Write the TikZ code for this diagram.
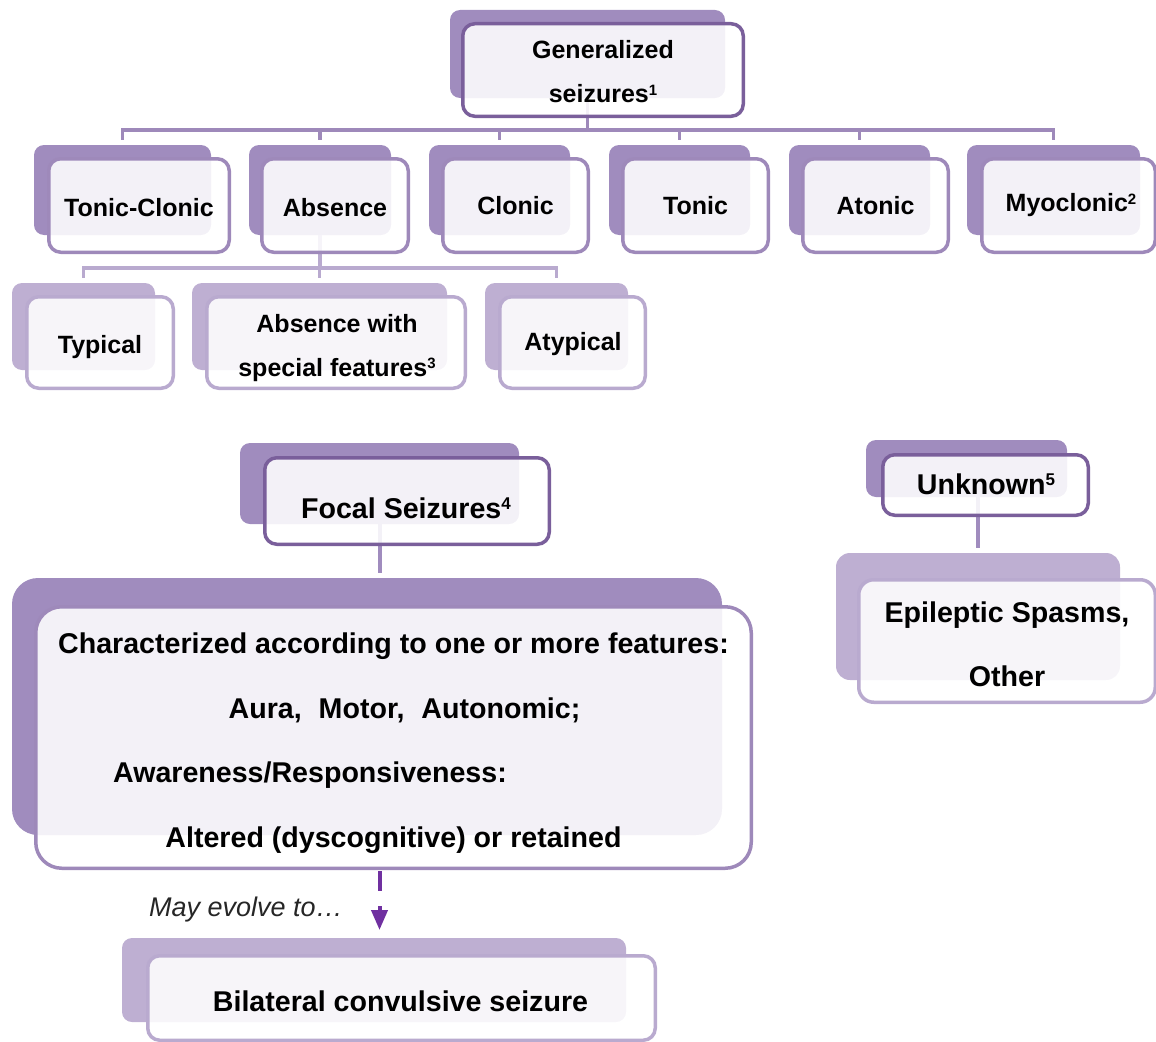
\documentclass[tikz,border=0pt]{standalone}
\usepackage{fontspec}
\setmainfont{Liberation Sans}
\usetikzlibrary{arrows.meta}
\definecolor{bkdark}{HTML}{A08CBE}
\definecolor{bklight}{HTML}{BEAFD2}
\definecolor{bddark}{HTML}{7A5F9B}
\definecolor{bdmid}{HTML}{9E89BA}
\definecolor{bdlight}{HTML}{B9AACF}
\definecolor{evocol}{HTML}{7030A0}
\newcommand\supsm[1]{\raisebox{7.5pt}{\fontsize{15}{15}\selectfont #1}}
\newcommand\supbg[1]{\raisebox{8.4pt}{\fontsize{17}{17}\selectfont #1}}
\tikzset{
  backD/.style={fill=bkdark, draw=none, rounded corners=10pt, inner sep=0pt, outer sep=0pt},
  backL/.style={fill=bklight, draw=none, rounded corners=10pt, inner sep=0pt, outer sep=0pt},
  frontbox/.style={fill=white, fill opacity=0.88, line width=3.5pt,
    rounded corners=12pt, inner sep=0pt, outer sep=0pt},
  frontD/.style={frontbox, draw=bddark},
  frontM/.style={frontbox, draw=bdmid},
  frontL/.style={frontbox, draw=bdlight},
  smalltxt/.style={font=\fontsize{25}{44}\selectfont\bfseries, align=center, inner sep=0pt, text=black},
  bigtxt/.style={font=\fontsize{28.6}{64.5}\selectfont\bfseries, align=center, inner sep=0pt, text=black},
  connM/.style={draw=bdmid, line width=3.5pt, shorten >=5pt},
  connL/.style={draw=bdlight, line width=3.5pt, shorten >=5pt},
  connD/.style={draw=bkdark, line width=4pt, shorten >=5pt},
  evo/.style={draw=evocol, line width=4pt, dash pattern=on 20pt off 15pt,
    -{Triangle[width=16pt,length=20pt]}, shorten <=3pt, shorten >=8pt},
}
\begin{document}
\begin{tikzpicture}[x=1pt,y=-1pt]
\useasboundingbox (0,0) rectangle (1156,1041);
% ---------- back shapes ----------
\node[backD, minimum width=275, minimum height=88] (genback) at (587.5,54) {};
\node[backD, minimum width=177, minimum height=90] (tcback) at (122.5,190) {};
\node[backD, minimum width=142, minimum height=90] (absback) at (320,190) {};
\node[backD, minimum width=141, minimum height=90] (clback) at (499.5,190) {};
\node[backD, minimum width=141, minimum height=90] (toback) at (679.5,190) {};
\node[backD, minimum width=141, minimum height=90] (atback) at (859.5,190) {};
\node[backD, minimum width=173, minimum height=90] (myback) at (1053.5,190) {};
\node[backL, minimum width=143, minimum height=87] (tyback) at (83.5,326.5) {};
\node[backL, minimum width=255, minimum height=87] (spback) at (319.5,326.5) {};
\node[backL, minimum width=143, minimum height=87] (atyback) at (556.5,326.5) {};
\node[backD, minimum width=279, minimum height=81] (focback) at (379.5,483.5) {};
\node[backD, minimum width=710, minimum height=257, rounded corners=26pt] (bigback) at (367,706.5) {};
\node[backD, minimum width=201, minimum height=57] (unkback) at (966.5,468.5) {};
\node[backL, minimum width=284, minimum height=127, rounded corners=14pt] (epiback) at (978,616.5) {};
\node[backL, minimum width=504, minimum height=84] (bilback) at (374,980) {};
% ---------- connectors ----------
\coordinate (genbar) at (587.5,130);
\coordinate (absbar) at (320,268);
\foreach \c in {tcback,absback,clback,toback,atback,myback}
  \draw[connM] (genback.south) -- (genback.south |- genbar) -| (\c.north);
\foreach \c in {tyback,spback,atyback}
  \draw[connL] (absback.south) -- (absback.south |- absbar) -| (\c.north);
\draw[connD] (focback.south) -- (focback.south |- bigback.north);
\draw[connD] (epiback.north |- unkback.south) -- (epiback.north);
% ---------- front boxes ----------
\node[frontD, minimum width=280.5, minimum height=92.5] (gen) at (603,70) {};
\node[frontM, minimum width=180.5, minimum height=93.5] (tc) at (139,205.5) {};
\node[frontM, minimum width=146.5, minimum height=93.5] (abs) at (335,205.5) {};
\node[frontM, minimum width=145.5, minimum height=93.5] (cl) at (515.5,205.5) {};
\node[frontM, minimum width=145.5, minimum height=93.5] (to) at (695.5,205.5) {};
\node[frontM, minimum width=145.5, minimum height=93.5] (at) at (875.5,205.5) {};
\node[frontM, minimum width=173.5, minimum height=93.5] (my) at (1068.5,205.5) {};
\node[frontL, minimum width=146.5, minimum height=91.5] (ty) at (100,342.5) {};
\node[frontL, minimum width=258.5, minimum height=91.5] (sp) at (336,342.5) {};
\node[frontL, minimum width=145.5, minimum height=91.5] (aty) at (572.5,342.5) {};
\node[frontD, minimum width=284.5, minimum height=86.5] (foc) at (407,501) {};
\node[frontM, minimum width=715.5, minimum height=261.5, rounded corners=26pt] (big) at (393.5,737.5) {};
\node[frontD, minimum width=205.5, minimum height=60.5] (unk) at (985.5,485) {};
\node[frontL, minimum width=296.5, minimum height=122.5, rounded corners=15pt] (epi) at (1007,641) {};
\node[frontL, minimum width=507.5, minimum height=84.5] (bil) at (401.5,998) {};
% ---------- texts ----------
\node[smalltxt] (gent) at (603,72) {Generalized\\seizures\supsm{1}};
\node[smalltxt] (tct) at (139,208) {Tonic-Clonic};
\node[smalltxt] (abst) at (335,208) {Absence};
\node[smalltxt] (clt) at (515.5,205.5) {Clonic};
\node[smalltxt] (tot) at (695.5,205.5) {Tonic};
\node[smalltxt] (att) at (875.5,205.5) {Atonic};
\node[smalltxt] (myt) at (1071,205.5) {Myoclonic\supsm{2}};
\node[smalltxt] (tyt) at (100,347) {Typical};
\node[smalltxt] (spt) at (337,348) {Absence with\\special features\supsm{3}};
\node[smalltxt] (atyt) at (573,344) {Atypical};
\node[bigtxt] (foct) at (406,508) {Focal Seizures\supbg{4}};
\node[bigtxt] (bigt) at (393.5,743)
  {Characterized according to one or more features:\\
   \hspace*{22pt}Aura,\hspace{9pt} Motor,\hspace{9pt} Autonomic;\\
   Awareness/Responsiveness:\hspace*{167pt}\mbox{}\\
   Altered (dyscognitive) or retained};
\node[bigtxt] (unkt) at (986,484) {Unknown\supbg{5}};
\node[bigtxt, font=\fontsize{28.6}{64}\selectfont\bfseries] (epit) at (1007,644) {Epileptic Spasms,\\Other};
\node[bigtxt] (bilt) at (400.5,1001) {Bilateral convulsive seizure};
% ---------- evolution arrow ----------
\draw[evo] (focback.south |- big.south) -- (focback.south |- bilback.north);
\node[font=\fontsize{27}{30}\selectfont\itshape, text=black!85, inner sep=0pt, anchor=base] (mayev) at (246,916) {May evolve to…};
\end{tikzpicture}
\end{document}
